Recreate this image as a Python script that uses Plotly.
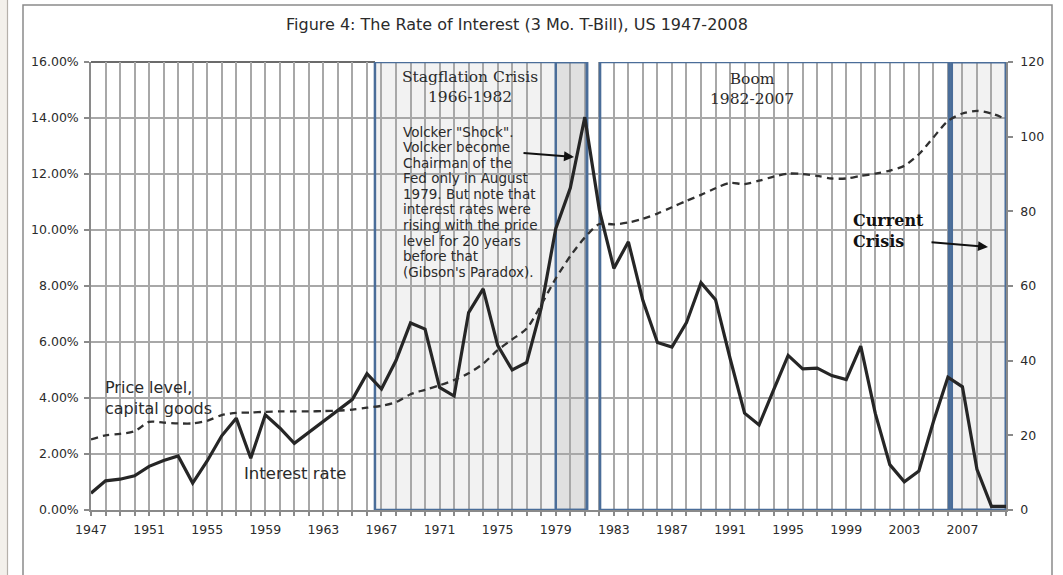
import plotly.graph_objects as go

# ---------------- data ----------------
years = [1947, 1948, 1949, 1950, 1951, 1952, 1953, 1954, 1955, 1956,
         1957, 1958, 1959, 1960, 1961, 1962, 1963, 1964, 1965, 1966,
         1967, 1968, 1969, 1970, 1971, 1972, 1973, 1974, 1975, 1976,
         1977, 1978, 1979, 1980, 1981, 1982, 1983, 1984, 1985, 1986,
         1987, 1988, 1989, 1990, 1991, 1992, 1993, 1994, 1995, 1996,
         1997, 1998, 1999, 2000, 2001, 2002, 2003, 2004, 2005, 2006,
         2007, 2008, 2009, 2010]

# 3-month T-bill rate, percent (left axis)
interest_rate = [0.60, 1.04, 1.10, 1.22, 1.56, 1.77, 1.93, 0.96, 1.75, 2.65,
                 3.28, 1.85, 3.40, 2.93, 2.38, 2.78, 3.16, 3.55, 3.95, 4.87,
                 4.32, 5.34, 6.68, 6.46, 4.38, 4.07, 7.05, 7.90, 5.88, 5.00,
                 5.27, 7.22, 10.05, 11.50, 14.03, 10.72, 8.63, 9.58, 7.48, 5.98,
                 5.82, 6.69, 8.12, 7.51, 5.42, 3.46, 3.04, 4.29, 5.52, 5.04,
                 5.07, 4.80, 4.66, 5.85, 3.45, 1.62, 1.01, 1.39, 3.15, 4.74,
                 4.40, 1.45, 0.13, 0.13]

# Price level of capital goods (right axis, index)
price_level = [18.9, 20.0, 20.4, 21.1, 23.6, 23.4, 23.2, 23.2, 23.9, 25.4,
               26.0, 26.1, 26.3, 26.4, 26.4, 26.4, 26.5, 26.6, 26.9, 27.4,
               27.9, 28.9, 31.0, 32.2, 33.4, 34.8, 36.6, 39.2, 42.8, 45.7,
               48.6, 55.0, 62.0, 68.0, 73.0, 76.6, 76.5, 77.0, 78.0, 79.4,
               81.1, 82.8, 84.4, 86.2, 87.6, 87.3, 88.2, 89.3, 90.1, 90.0,
               89.5, 88.8, 88.8, 89.5, 90.1, 90.9, 92.2, 95.3, 99.8, 104.2,
               106.2, 106.9, 106.2, 104.7]

x_tick_years = [1947, 1951, 1955, 1959, 1963, 1967, 1971, 1975, 1979, 1983,
                1987, 1991, 1995, 1999, 2003, 2007]
x_tick_labels = ["1947", "1951", "1955", "1959", "1963", "1967", "1971", "1975",
                 "1979", "1983", "1987", "1991", "1995", "1999", "2003", "2007"]
left_tick_values = [0, 2, 4, 6, 8, 10, 12, 14, 16]
left_tick_labels = ["0.00%", "2.00%", "4.00%", "6.00%", "8.00%",
                    "10.00%", "12.00%", "14.00%", "16.00%"]
right_tick_values = [0, 20, 40, 60, 80, 100, 120]

# period boxes (years)
stagflation_span = (1966.55, 1981.15)
volcker_span = (1979.0, 1981.15)
boom_span = (1982.05, 2006.08)
crisis_span = (2006.25, 2010.0)

volcker_lines = ['Volcker "Shock".', "Volcker become", "Chairman of the",
                 "Fed only in August", "1979. But note that",
                 "interest rates were", "rising with the price",
                 "level for 20 years", "before that", "(Gibson's Paradox)."]

# ---------------- layout helpers ----------------
W, H = 1063, 575
L, R, T, B = 91, 1006, 62, 510


def px(x):
    return (x - L) / (R - L)


def py(y):
    return (B - y) / (B - T)


SANS = "DejaVu Sans"
SERIF = "DejaVu Serif"
TXT = "#2b2b2b"
GRID = "#a8a8a8"
BLUE = "#4a6d99"

fig = go.Figure()

fig.add_trace(go.Scatter(
    x=years, y=price_level, yaxis="y2", mode="lines",
    line=dict(color="#303030", width=2.3, dash="7px,5px", shape="spline", smoothing=0.8),
    name="Price level, capital goods", hoverinfo="skip"))

fig.add_trace(go.Scatter(
    x=years, y=interest_rate, mode="lines",
    line=dict(color="#262626", width=3.2),
    name="Interest rate", hoverinfo="skip"))

shapes = []
# outer decorations
shapes.append(dict(type="rect", xref="paper", yref="paper",
                   x0=px(-5), x1=px(7), y0=py(600), y1=py(-5),
                   fillcolor="#f3f0eb", line=dict(width=0), layer="below"))
shapes.append(dict(type="line", xref="paper", yref="paper",
                   x0=px(7.5), x1=px(7.5), y0=py(600), y1=py(-5),
                   line=dict(color="#b5b0aa", width=1.2)))
shapes.append(dict(type="rect", xref="paper", yref="paper",
                   x0=px(23), x1=px(1052), y0=py(600), y1=py(5),
                   line=dict(color="#8a8a8a", width=1.5), layer="below"))

# box fills (under grid)
for span, col in [(stagflation_span, "#f2f2f2"), (volcker_span, "#e0e0e0"),
                  (crisis_span, "#f2f2f2")]:
    shapes.append(dict(type="rect", xref="x", yref="y", x0=span[0], x1=span[1],
                       y0=0, y1=16, fillcolor=col, line=dict(width=0), layer="below"))
# box borders
for span, wdt in [(stagflation_span, 2.5), (volcker_span, 2.5),
                  (boom_span, 2.5), (crisis_span, 3)]:
    shapes.append(dict(type="rect", xref="x", yref="y", x0=span[0], x1=span[1],
                       y0=0, y1=16, line=dict(color=BLUE, width=wdt), layer="between"))
# top border of plot
shapes.append(dict(type="line", xref="paper", yref="paper", x0=0, x1=px(375),
                   y0=1, y1=1, line=dict(color="#3a3a3a", width=1.5), layer="between"))

annotations = []
annotations.append(dict(text="Figure 4: The Rate of Interest (3 Mo. T-Bill), US 1947-2008",
                        x=px(517), y=py(25), xref="paper", yref="paper",
                        showarrow=False, xanchor="center", yanchor="middle",
                        font=dict(family=SANS, size=16, color=TXT)))
annotations.append(dict(text="Stagflation Crisis<br>1966-1982", x=px(470), y=py(87),
                        xref="paper", yref="paper", showarrow=False,
                        xanchor="center", yanchor="middle", align="center",
                        font=dict(family=SERIF, size=15.5, color=TXT)))
annotations.append(dict(text="Boom<br>1982-2007", x=px(752), y=py(89),
                        xref="paper", yref="paper", showarrow=False,
                        xanchor="center", yanchor="middle", align="center",
                        font=dict(family=SERIF, size=15.5, color=TXT)))
annotations.append(dict(text="<b>Current<br>Crisis</b>", x=px(851), y=py(231),
                        xref="paper", yref="paper", showarrow=False,
                        xanchor="left", yanchor="middle", align="left",
                        font=dict(family=SERIF, size=16, color="#111111")))
for i, line in enumerate(volcker_lines):
    annotations.append(dict(text=line, x=px(401), y=py(131.7 + i * 15.55),
                            xref="paper", yref="paper", showarrow=False,
                            xanchor="left", yanchor="middle",
                            font=dict(family=SANS, size=13.5, color=TXT)))
annotations.append(dict(text="Price level,<br>capital goods", x=px(103), y=py(398),
                        xref="paper", yref="paper", showarrow=False,
                        xanchor="left", yanchor="middle", align="left",
                        font=dict(family=SANS, size=16, color=TXT)))
annotations.append(dict(text="Interest rate", x=px(242), y=py(473),
                        xref="paper", yref="paper", showarrow=False,
                        xanchor="left", yanchor="middle",
                        font=dict(family=SANS, size=16.5, color=TXT)))
# arrows
annotations.append(dict(text="", x=px(574), y=py(157), xref="paper", yref="paper",
                        ax=-52, ay=-4, showarrow=True, arrowhead=2, arrowsize=1,
                        arrowwidth=2, arrowcolor="#111111"))
annotations.append(dict(text="", x=px(988), y=py(247), xref="paper", yref="paper",
                        ax=-58, ay=-5, showarrow=True, arrowhead=2, arrowsize=1,
                        arrowwidth=2, arrowcolor="#111111"))

fig.update_layout(
    width=W, height=H,
    margin=dict(l=L, r=W - R, t=T, b=H - B, pad=0),
    paper_bgcolor="white", plot_bgcolor="white",
    showlegend=False,
    shapes=shapes, annotations=annotations,
    xaxis=dict(range=[1947, 2010], tickmode="array", tickvals=x_tick_years,
               ticktext=x_tick_labels, ticks="outside", ticklen=4, tickwidth=1.5,
               tickcolor="#8a8a8a", ticklabelstandoff=3,
               showgrid=True, gridcolor=GRID, gridwidth=1.5,
               minor=dict(dtick=1, tick0=1947, showgrid=True, gridcolor=GRID,
                          gridwidth=1.5, ticks="outside", ticklen=4,
                          tickcolor="#8a8a8a", tickwidth=1.5),
               showline=True, linecolor="#8a8a8a", linewidth=1.5,
               zeroline=False, tickfont=dict(family=SANS, size=12.5, color=TXT)),
    yaxis=dict(range=[0, 16], tickmode="array", tickvals=left_tick_values,
               ticktext=left_tick_labels, ticks="outside", ticklen=5, tickwidth=1.5,
               tickcolor="#8a8a8a", ticklabelstandoff=3,
               showgrid=True, gridcolor=GRID, gridwidth=1.6,
               showline=True, linecolor="#8a8a8a", linewidth=1.5, zeroline=False,
               tickfont=dict(family=SANS, size=12.5, color=TXT)),
    yaxis2=dict(range=[0, 120], tickmode="array", tickvals=right_tick_values,
                overlaying="y", side="right", ticks="outside", ticklen=5,
                tickwidth=1.5, tickcolor="#8a8a8a", ticklabelstandoff=5,
                showgrid=False,
                showline=True, linecolor="#8a8a8a", linewidth=1.5, zeroline=False,
                tickfont=dict(family=SANS, size=12.5, color=TXT)),
)

fig.write_html("out.html", config={"displayModeBar": False},
               post_script="document.body.style.margin='0px';")
